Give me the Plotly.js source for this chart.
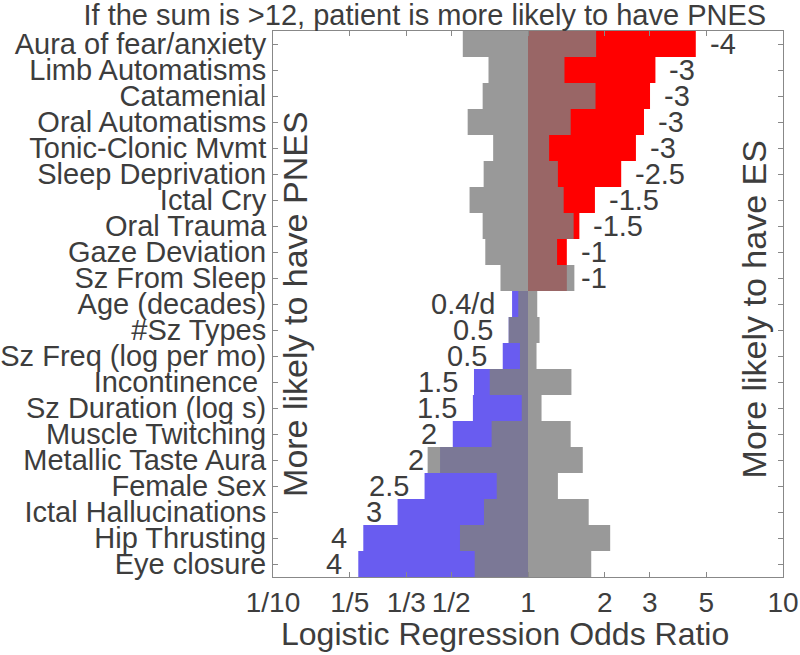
<!DOCTYPE html>
<html>
<head>
<meta charset="utf-8">
<script src="https://cdn.plot.ly/plotly-3.0.1.min.js"></script>
<style>
  body { margin: 0; background: #fff; }
  #fig { width: 800px; height: 655px; }
</style>
</head>
<body>
<div id="fig"></div>
<script>
// rows top to bottom
var labels = ['Aura of fear/anxiety', 'Limb Automatisms', 'Catamenial', 'Oral Automatisms',
  'Tonic-Clonic Mvmt', 'Sleep Deprivation', 'Ictal Cry', 'Oral Trauma', 'Gaze Deviation',
  'Sz From Sleep', 'Age (decades)', '#Sz Types', 'Sz Freq (log per mo)', 'Incontinence\u00a0',
  'Sz Duration (log s)', 'Muscle Twitching', 'Metallic Taste Aura', 'Female Sex',
  'Ictal Hallucinations', 'Hip Thrusting', 'Eye closure'];
var oddsRatio = [4.55, 3.16, 3.01, 2.85, 2.65, 2.32, 1.83, 1.59, 1.42, 1.42,
  0.866, 0.84, 0.796, 0.614, 0.608, 0.507, 0.452, 0.393, 0.308, 0.226, 0.216];
var grayLo = [0.555, 0.70, 0.664, 0.58, 0.73, 0.67, 0.59, 0.664, 0.68, 0.78,
  0.916, 0.84, 0.93, 0.708, 0.945, 0.72, 0.404, 0.754, 0.672, 0.541, 0.618];
var grayHi = [1.85, 1.39, 1.84, 1.47, 1.21, 1.31, 1.38, 1.51, 1.30, 1.52,
  1.087, 1.11, 1.08, 1.48, 1.13, 1.47, 1.64, 1.31, 1.73, 2.10, 1.77];
var scores = ['-4', '-3', '-3', '-3', '-3', '-2.5', '-1.5', '-1.5', '-1', '-1',
  '0.4/d', '0.5', '0.5', '1.5', '1.5', '2', '2', '2.5', '3', '4', '4'];

var tickVals = [0.1, 0.2, 1/3, 0.5, 1, 2, 3, 5, 10];
var tickText = ['1/10', '1/5', '1/3', '1/2', '1', '2', '3', '5', '10'];

var txtColor = '#3d3d3d';
var fnt = 'Liberation Sans, Arial, sans-serif';

// split into ES (red, OR>1) and PNES (blue, OR<1)
var redY = [], redBase = [], redLen = [];
var blueY = [], blueBase = [], blueLen = [];
var annots = [];
for (var i = 0; i < labels.length; i++) {
  var v = oddsRatio[i];
  if (v > 1) {
    redY.push(labels[i]); redBase.push(1); redLen.push(v - 1);
    annots.push({x: Math.log10(v), y: labels[i], xref: 'x', yref: 'y', text: scores[i],
      showarrow: false, xanchor: 'left', xshift: 12,
      font: {family: fnt, size: 29, color: txtColor}});
  } else {
    blueY.push(labels[i]); blueBase.push(v); blueLen.push(1 - v);
    annots.push({x: Math.log10(v), y: labels[i], xref: 'x', yref: 'y', text: scores[i],
      showarrow: false, xanchor: 'right', xshift: -14,
      font: {family: fnt, size: 29, color: txtColor}});
  }
}
var grayBase = [], grayLen = [];
for (var j = 0; j < labels.length; j++) {
  grayBase.push(grayLo[j]);
  grayLen.push(grayHi[j] - grayLo[j]);
}

var trace1 = {
  type: 'bar', orientation: 'h', y: redY, x: redLen, base: redBase, width: 1,
  marker: {color: 'rgb(255,0,0)', line: {width: 0}}, hoverinfo: 'none', showlegend: false
};
var trace2 = {
  type: 'bar', orientation: 'h', y: blueY, x: blueLen, base: blueBase, width: 1,
  marker: {color: 'rgb(105,92,240)', line: {width: 0}}, hoverinfo: 'none', showlegend: false
};
// gray band on top, see-through
var trace3 = {
  type: 'bar', orientation: 'h', y: labels, x: grayLen, base: grayBase, width: 1,
  marker: {color: 'rgb(128,128,128)', opacity: 0.8, line: {width: 0}},
  hoverinfo: 'none', showlegend: false
};

annots.push({xref: 'paper', yref: 'paper', x: 0.043, xanchor: 'center', y: 0.5, textangle: -90,
  text: 'More likely to have PNES', showarrow: false,
  font: {family: fnt, size: 34, color: txtColor}});
annots.push({xref: 'paper', yref: 'paper', x: 0.945, xanchor: 'center', y: 0.49, textangle: -90,
  text: 'More likely to have ES', showarrow: false,
  font: {family: fnt, size: 34, color: txtColor}});
annots.push({xref: 'paper', yref: 'paper', x: 0.455, y: -0.105, yanchor: 'middle',
  text: 'Logistic Regression Odds Ratio', showarrow: false,
  font: {family: fnt, size: 32, color: txtColor}});

var layout = {
  width: 800, height: 655,
  margin: {l: 273, r: 17, t: 31, b: 78},
  paper_bgcolor: '#fff', plot_bgcolor: '#fff',
  barmode: 'overlay',
  title: {text: 'If the sum is >12, patient is more likely to have PNES',
    x: 0.531, xanchor: 'center', y: 0.977, yanchor: 'middle',
    font: {family: fnt, size: 29, color: txtColor}},
  xaxis: {
    type: 'log', range: [-1, 1],
    tickvals: tickVals, ticktext: tickText,
    ticks: 'inside', ticklen: 5, tickcolor: '#888',
    showline: true, linecolor: '#888', linewidth: 1, mirror: 'ticks',
    showgrid: false, zeroline: false,
    tickfont: {family: fnt, size: 28, color: txtColor}
  },
  yaxis: {
    type: 'category', categoryorder: 'array', categoryarray: labels,
    tickmode: 'array', tickvals: labels,
    range: [20.5, -0.5],
    ticks: 'inside', ticklen: 5, tickcolor: '#888',
    showline: true, linecolor: '#888', linewidth: 1, mirror: 'ticks',
    showgrid: false, zeroline: false,
    tickfont: {family: fnt, size: 29, color: txtColor}
  },
  annotations: annots
};

Plotly.newPlot('fig', [trace1, trace2, trace3], layout, {displayModeBar: false, staticPlot: true});
</script>
</body>
</html>
